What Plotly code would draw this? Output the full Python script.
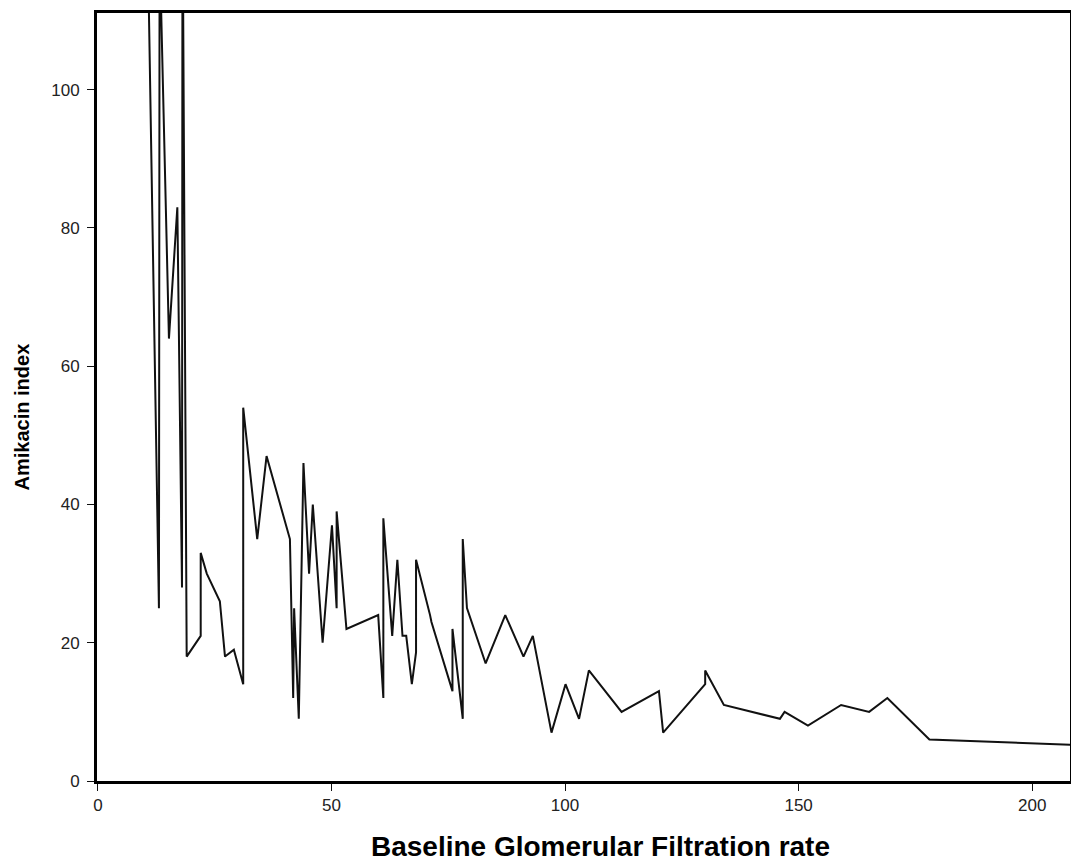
import plotly.graph_objects as go

# Baseline GFR (x) and Amikacin index (y)
gfr = [10, 13.06, 13.2, 15.2, 17.0, 18.0, 18.1, 19.0, 22.0, 22.0,
       23.3, 26.1, 27.2, 29.1, 31.1, 31.1, 34.1, 36.1, 41.1, 41.8,
       42.0, 43.0, 44.0, 45.2, 46.0, 48.1, 50.1, 51.1, 51.1, 53.2,
       60.0, 61.1, 61.1, 63.0, 64.1, 65.2, 66.0, 67.2, 68.1, 68.1,
       71.1, 71.4, 75.9, 75.9, 78.1, 78.1, 79.0, 83.0, 87.2, 91.1,
       93.1, 97.1, 100.1, 103.0, 105.1, 112.1, 120.1, 121.0, 130.0, 130.0,
       134.0, 146.0, 147.0, 152.0, 159.1, 165.1, 169.0, 178.0, 210]
amikacin_index = [148, 25, 121, 64, 83, 28, 130, 18, 21, 33,
                  30, 26, 18, 19, 14, 54, 35, 47, 35, 12,
                  25, 9, 46, 30, 40, 20, 37, 25, 39, 22,
                  24, 12, 38, 21, 32, 21, 21, 14, 18.6, 32,
                  24, 23, 13, 22, 9, 35, 25, 17, 24, 18,
                  21, 7, 14, 9, 16, 10, 13, 7, 14, 16,
                  11, 9, 10, 8, 11, 10, 12, 6, 5.2]

x_ticks = [0, 50, 100, 150, 200]
y_ticks = [0, 20, 40, 60, 80, 100]
x_title = "Baseline Glomerular Filtration rate"
y_title = "Amikacin index"

FONT = "Liberation Sans, Arial, sans-serif"

fig = go.Figure()
fig.add_trace(go.Scatter(
    x=gfr, y=amikacin_index, mode="lines",
    line=dict(color="#111111", width=2),
    showlegend=False, hoverinfo="x+y",
))

axis_common = dict(
    showgrid=False, zeroline=False,
    showline=True, linecolor="black", linewidth=3, mirror=True,
    ticks="outside", ticklen=7, tickwidth=1, tickcolor="#111111",
    tickfont=dict(family=FONT, size=17, color="#222222"),
)

# page has an 8px body margin, so the figure is sized to fit without scrollbars
W, H = 1071, 857
ML, MR, MT, MB = 89, 9, 2, 84

fig.update_layout(
    width=W, height=H,
    paper_bgcolor="white", plot_bgcolor="white",
    margin=dict(l=ML, r=MR, t=MT, b=MB),
    xaxis=dict(range=[-0.2, 208.1], tickvals=x_ticks, **axis_common),
    yaxis=dict(range=[0, 111.1], tickvals=y_ticks, ticklabelstandoff=4, **axis_common),
    font=dict(family=FONT),
)

plot_w = W - ML - MR
plot_h = H - MT - MB
# x title centred at page x ~600 (figure x ~592), y ~847 (figure y ~839)
fig.add_annotation(
    text=f"<b>{x_title}</b>", xref="paper", yref="paper",
    x=(592 - ML) / plot_w, y=-(839 - (MT + plot_h)) / plot_h,
    xanchor="center", yanchor="middle", showarrow=False,
    font=dict(family=FONT, size=28, color="black"),
)
# y title centred at page x ~22 (figure x ~14), page y ~416 (figure y ~408)
fig.add_annotation(
    text=f"<b>{y_title}</b>", xref="paper", yref="paper",
    x=-(ML - 14) / plot_w, y=1 - (408 - MT) / plot_h,
    xanchor="center", yanchor="middle", showarrow=False, textangle=-90,
    font=dict(family=FONT, size=20, color="black"),
)

fig.write_html("out.html")
